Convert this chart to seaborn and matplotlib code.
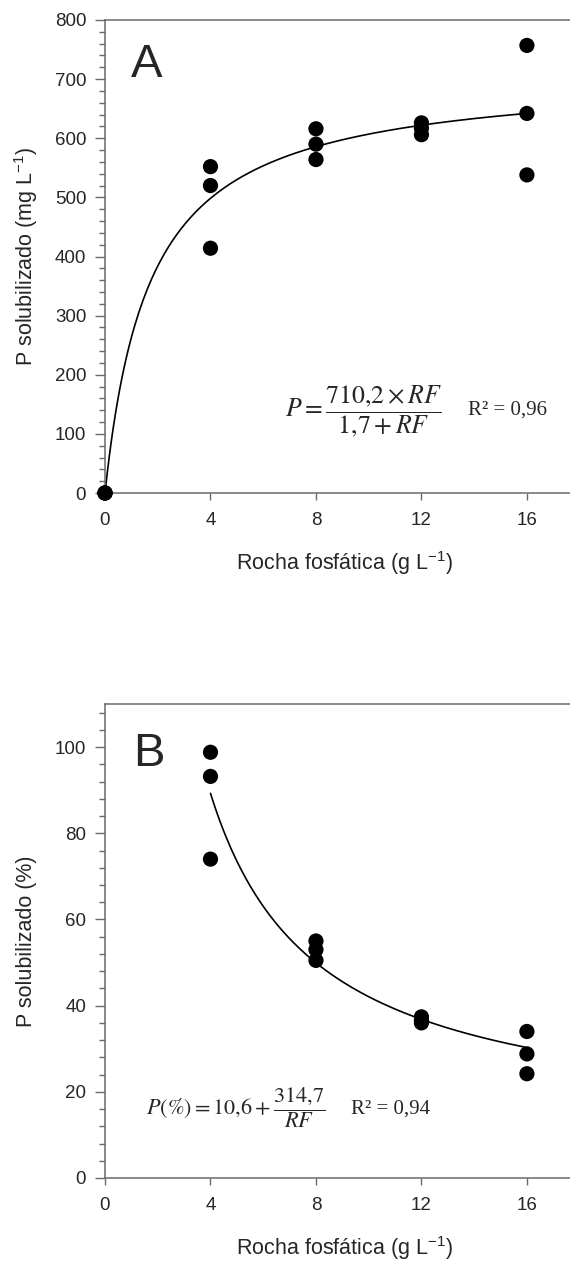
import numpy as np
import pandas as pd
import matplotlib
matplotlib.use("Agg")
import matplotlib.pyplot as plt
from matplotlib.ticker import MultipleLocator
import seaborn as sns

# ---------------- data ----------------
rf_a = [0, 0, 0, 4, 4, 4, 8, 8, 8, 12, 12, 12, 16, 16, 16]
p_a = [0, 0, 0, 552, 520, 414, 616, 590, 564, 626, 617, 606, 757, 642, 538]

rf_b = [4, 4, 4, 8, 8, 8, 12, 12, 12, 16, 16, 16]
p_b = [98.8, 93.2, 74.0, 55.0, 53.0, 50.5, 37.4, 36.6, 36.0, 34.0, 28.8, 24.2]

# fitted model parameters printed on the chart
a_pmax, a_k = 710.2, 1.7          # P = a*RF/(k+RF)
b_c, b_d = 10.6, 314.7            # P(%) = c + d/RF

xticks = [0, 4, 8, 12, 16]
xlabel = "Rocha fosfática (g L$^{-1}$)"
ylabel_a = "P solubilizado (mg L$^{-1}$)"
ylabel_b = "P solubilizado (%)"
eq_a = r"$P=\dfrac{710{,}2\times RF}{1{,}7+RF}$"
eq_b = r"$P(\%)=10{,}6+\dfrac{314{,}7}{RF}$"
r2_a = "R² = 0,96"
r2_b = "R² = 0,94"

# ---------------- style ----------------
sns.set_theme(style="white")
plt.rcParams["font.family"] = ["Liberation Sans", "DejaVu Sans"]
plt.rcParams["mathtext.fontset"] = "custom"
plt.rcParams["mathtext.rm"] = "Liberation Sans"
plt.rcParams["mathtext.it"] = "Liberation Sans:italic"
plt.rcParams["mathtext.bf"] = "Liberation Sans:bold"

W, H = 570, 1261
fig = plt.figure(figsize=(W / 100, H / 100), dpi=100)

spine_col = "#6a6a6a"
xmax = 18.0
left = 105 / W
width = xmax * 26.37 / W

ax_a = fig.add_axes([left, (H - 493) / H, width, 473 / H])
ax_b = fig.add_axes([left, (H - 1178) / H, width, 474 / H])

# curves from the printed fits
xa = np.linspace(0, 16, 200)
ya = a_pmax * xa / (a_k + xa)
xb = np.linspace(4, 16, 200)
yb = b_c + b_d / xb

sns.lineplot(x=xa, y=ya, ax=ax_a, color="black", linewidth=1.2)
sns.scatterplot(x=rf_a, y=p_a, ax=ax_a, color="black", s=120, edgecolor="none",
                clip_on=False, zorder=5)
sns.lineplot(x=xb, y=yb, ax=ax_b, color="black", linewidth=1.2)
sns.scatterplot(x=rf_b, y=p_b, ax=ax_b, color="black", s=120, edgecolor="none",
                clip_on=False, zorder=5)

for ax, ylim, major, minor, ylab in [
    (ax_a, (0, 800), 100, 20, ylabel_a),
    (ax_b, (0, 110), 20, 4, ylabel_b),
]:
    ax.set_xlim(0, xmax)
    ax.set_ylim(*ylim)
    ax.set_xticks(xticks)
    ax.yaxis.set_major_locator(MultipleLocator(major))
    ax.yaxis.set_minor_locator(MultipleLocator(minor))
    ax.tick_params(axis="x", which="major", direction="out", length=5, width=1,
                   color=spine_col, labelsize=13.5, pad=9, bottom=True)
    ax.tick_params(axis="y", which="major", direction="out", length=7.5, width=1,
                   color=spine_col, labelsize=13.5, pad=6, left=True)
    ax.tick_params(axis="y", which="minor", direction="out", length=4.5, width=1,
                   color=spine_col, left=True)
    for s in ["left", "bottom", "top"]:
        ax.spines[s].set_visible(True)
        ax.spines[s].set_color(spine_col)
        ax.spines[s].set_linewidth(1.1)
    ax.spines["right"].set_visible(False)
    ax.set_xlabel(xlabel, fontsize=15.5)
    ax.set_ylabel(ylab, fontsize=15.5)
    ax.xaxis.set_label_coords((344 - 105) / 474.7, -0.148)
    ax.xaxis.label.set_va("center")
    ax.yaxis.set_label_coords(-0.166, 0.5)
    ax.yaxis.label.set_va("center")
    ax.set_facecolor("white")

ax_a.text(0.0548, 0.8795, "A", transform=ax_a.transAxes, fontsize=34,
          ha="left", va="baseline")
ax_b.text((133 - 105) / 474.7, 0.869, "B", transform=ax_b.transAxes, fontsize=34,
          ha="left", va="baseline")

ax_a.text(0.379, 0.1734, eq_a, transform=ax_a.transAxes, fontsize=18.5,
          ha="left", va="center", math_fontfamily="stix")
ax_a.text(0.765, 0.1755, r2_a, transform=ax_a.transAxes, fontsize=15,
          family="Liberation Serif", ha="left", va="center")
ax_b.text(0.0864, 0.1477, eq_b, transform=ax_b.transAxes, fontsize=16,
          ha="left", va="center", math_fontfamily="stix")
ax_b.text(0.518, 0.1456, r2_b, transform=ax_b.transAxes, fontsize=15,
          family="Liberation Serif", ha="left", va="center")

fig.savefig("out.png", dpi=100, facecolor="white")
